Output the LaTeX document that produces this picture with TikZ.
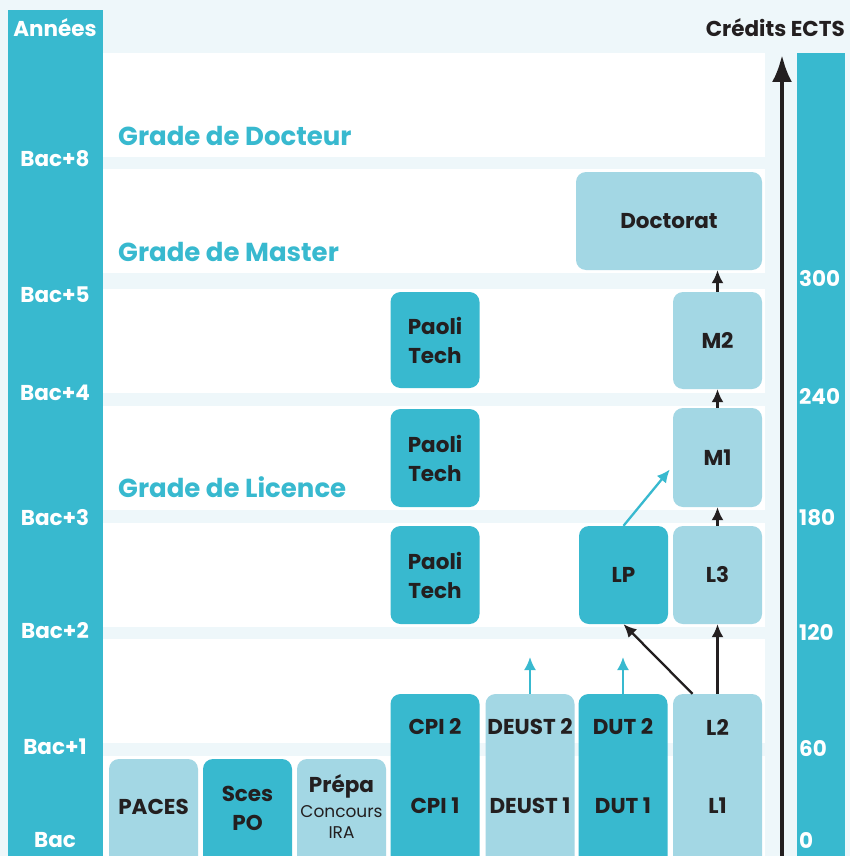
\documentclass[tikz,border=0pt]{standalone}
\usepackage{fontspec}
\setmainfont{Poppins}
\usetikzlibrary{arrows.meta,calc}
\definecolor{cyanfonce}{HTML}{38B9CF}
\definecolor{cyanclair}{HTML}{A3D7E4}
\definecolor{fondbleu}{HTML}{EEF7FA}
\definecolor{encre}{HTML}{231F20}

\begin{document}
\begin{tikzpicture}[x=1pt,y=-1pt,
	cursus/.style={rounded corners=10pt, minimum width=89pt, inner sep=0pt},
	fonce/.style={cursus, fill=cyanfonce},
	clair/.style={cursus, fill=cyanclair},
	intitule/.style={text=encre, align=center, inner sep=0pt, font=\bfseries\fontsize{21.5}{29}\selectfont},
	concours/.style={text=encre, align=center, inner sep=0pt, font=\fontsize{17}{21}\selectfont},
	annee/.style={text=white, inner sep=0pt, font=\bfseries\fontsize{21.5}{25}\selectfont},
	ects/.style={annee, anchor=west},
	grade/.style={text=cyanfonce, anchor=west, inner sep=0pt, font=\bfseries\fontsize{26}{30}\selectfont},
	passage/.style={-{Latex[length=13pt,width=12pt]}, line width=2.3pt, encre},
	passagebis/.style={passage, cyanfonce}]
	\clip (0,0) rectangle (850,856);
	\fill[fondbleu] (0,0) rectangle (850,856);
	\fill[cyanfonce] (8,10) rectangle (103,856);
	\fill[cyanfonce] (797,53) rectangle (845,856);
	\foreach \haut/\bas in {53/157,169/273,289/393,406/510,523/627,639/743,756/856}
		\fill[white] (103,\haut) rectangle (765,\bas);
	
	\node[annee] (annees) at (55,28) {Années};
	\node[annee] (bac8) at (55,159) {Bac+8};
	\node[annee] (bac5) at (55,295) {Bac+5};
	\node[annee] (bac4) at (55,393) {Bac+4};
	\node[annee] (bac3) at (55,518) {Bac+3};
	\node[annee] (bac2) at (55,631) {Bac+2};
	\node[annee] (bac1) at (55,747) {Bac+1};
	\node[annee] (bac) at (55,840) {Bac};
	
	\node[intitule, anchor=east] (credits) at (845,28) {Crédits ECTS};
	\node[ects] (e300) at (799,279) {300};
	\node[ects] (e240) at (799,396) {240};
	\node[ects] (e180) at (799,518) {180};
	\node[ects] (e120) at (799,632) {120};
	\node[ects] (e60) at (799,749) {60};
	\node[ects] (e0) at (799,840) {0};
	
	\node[grade] (docteur) at (118,136) {Grade de Docteur};
	\node[grade] (master) at (118,252) {Grade de Master};
	\node[grade] (licenceg) at (118,487) {Grade de Licence};
	
	\node[clair, minimum width=186pt, minimum height=98pt] (doctorat) at (669,221) {};
	\node[clair, minimum height=97pt] (m2) at (717.5,340.5) {};
	\node[clair, minimum height=99pt] (m1) at (717.5,457.5) {};
	\node[clair, minimum height=98pt] (l3) at (717.5,575) {};
	\node[fonce, minimum height=98pt] (lp) at (623.5,575) {};
	\node[fonce, minimum height=96pt] (paoli3) at (435,340) {};
	\node[fonce, minimum height=98pt] (paoli2) at (435,458) {};
	\node[fonce, minimum height=98pt] (paoli1) at (435,575) {};
	\node[fonce, minimum height=182pt] (cpi) at (435,785) {};
	\node[clair, minimum height=182pt] (deust) at (530,785) {};
	\node[fonce, minimum height=182pt] (dut) at (623,785) {};
	\node[clair, minimum height=182pt] (licence) at (717.5,785) {};
	\node[clair, minimum height=117pt] (paces) at (153.5,817.5) {};
	\node[fonce, minimum height=117pt] (sces) at (247.5,817.5) {};
	\node[clair, minimum height=117pt] (prepa) at (341.5,817.5) {};
	
	\node[intitule] at (doctorat) {Doctorat};
	\node[intitule] at (m2) {M2};
	\node[intitule] at (m1) {M1};
	\node[intitule] at (l3) {L3};
	\node[intitule] at (lp) {LP};
	\node[intitule] at (paoli3) {Paoli\\Tech};
	\node[intitule] at (paoli2) {Paoli\\Tech};
	\node[intitule] at (paoli1) {Paoli\\Tech};
	\node[intitule] (cpi2) at (435,727) {CPI 2};
	\node[intitule] (cpi1) at (435,806) {CPI 1};
	\node[intitule] (deust2) at (530,727) {DEUST 2};
	\node[intitule] (deust1) at (530,806) {DEUST 1};
	\node[intitule] (dut2) at (623,727) {DUT 2};
	\node[intitule] (dut1) at (623,806) {DUT 1};
	\node[intitule] (l2) at (717.5,727) {L2};
	\node[intitule] (l1) at (717.5,806) {L1};
	\node[intitule] (pacestxt) at (153.5,807) {PACES};
	\node[intitule] (scestxt) at (247.5,808) {Sces\\PO};
	\node[intitule] (prepatxt) at (341.5,786) {Prépa};
	\node[concours] (ira) at (341.5,822) {Concours\\IRA};
	
	\coordinate (ectsbas) at (782,856);
	\coordinate (ectshaut) at (782,55);
	\coordinate (sortiedeust) at (530,657);
	\coordinate (sortiedut) at (623,657);
	\draw[line width=4pt, encre, -{Latex[length=27pt,width=20pt]}] (ectsbas) -- (ectshaut);
	
	\draw[passage] (licence.north) -- (l3.south);
	\draw[passage] ($(licence.north west)!0.22!(licence.north east)$) -- (lp.south);
	\draw[passage] (l3.north) -- (m1.south);
	\draw[passage] (m1.north) -- (m2.south);
	\draw[passage] (m2.north) -- (m2.north |- doctorat.south);
	\draw[passagebis] (lp.north) -- ($(m1.west)+(-3,12)$);
	\draw[passagebis] (deust.north) -- (sortiedeust);
	\draw[passagebis] (dut.north) -- (sortiedut);
\end{tikzpicture}
\end{document}
